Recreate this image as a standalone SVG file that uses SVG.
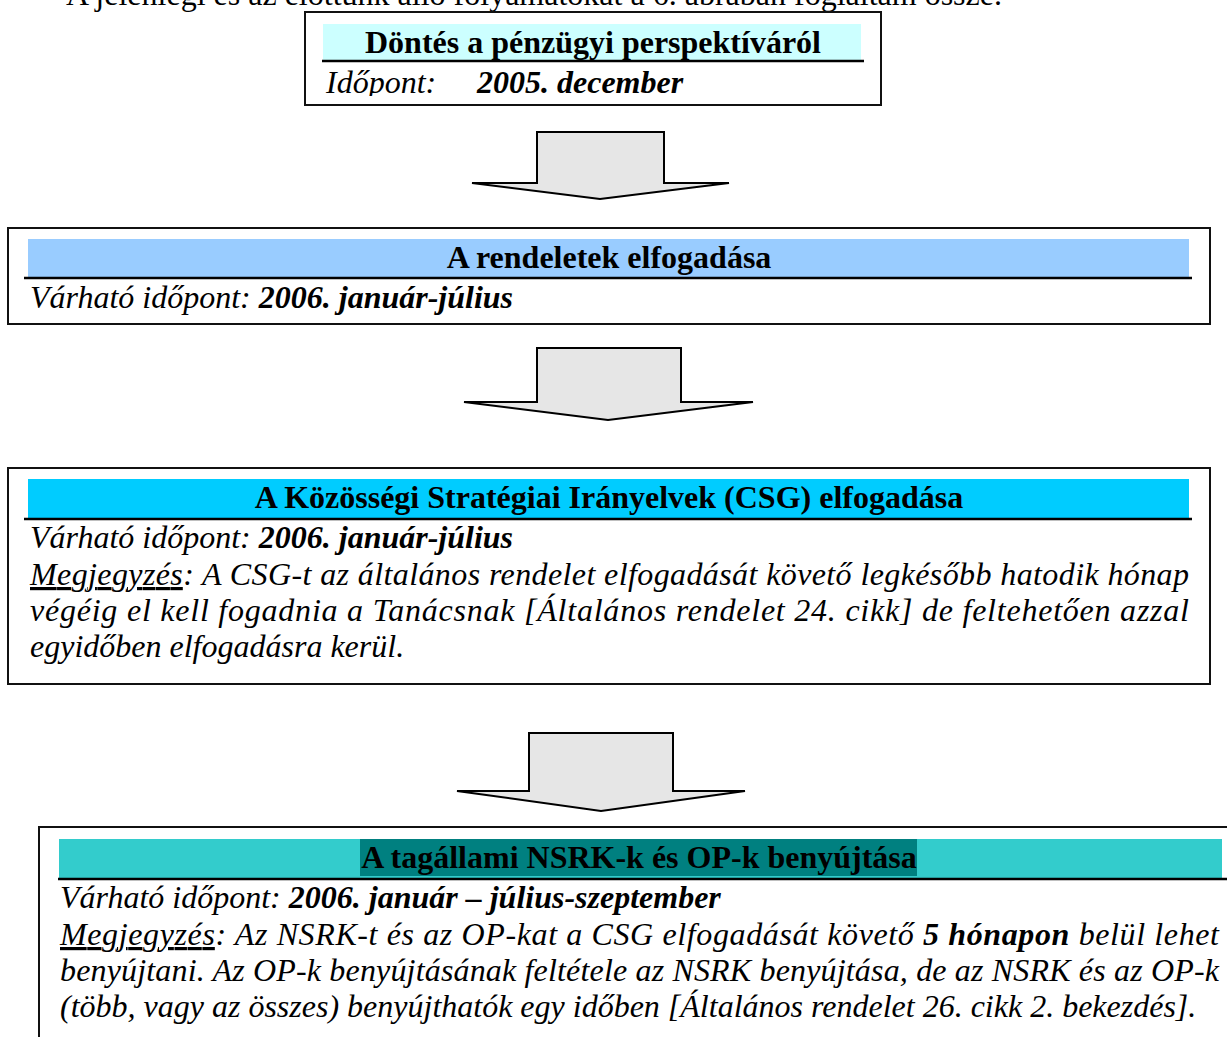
<svg xmlns="http://www.w3.org/2000/svg" width="1227" height="1037" viewBox="0 0 1227 1037">
  <style>
    .t { font-family: "Liberation Serif", "Times New Roman", serif; font-size: 32px; fill: #000; }
    .h { font-weight: bold; text-anchor: middle; }
    .i { font-style: italic; }
    .bi { font-style: italic; font-weight: bold; }
    .u { text-decoration: underline; }
    .box { fill: #fff; stroke: #111; stroke-width: 2; }
    .rule { stroke: #000; stroke-width: 2.5; }
    .arrow { fill: #e6e6e6; stroke: #000; stroke-width: 2; stroke-linejoin: miter; }
  </style>
  <defs>
    <clipPath id="c1"><rect x="300" y="8" width="590" height="88"/></clipPath>
  </defs>
  <rect x="0" y="0" width="1227" height="1037" fill="#fff"/>

  <text class="t" x="66" y="5" textLength="936" lengthAdjust="spacingAndGlyphs">A jelenlegi és az előttünk álló folyamatokat a 6. ábrában foglaltam össze.</text>

  <g id="node-dontes">
    <rect class="box" x="305" y="12" width="576" height="93"/>
    <rect x="323" y="24" width="538" height="37" fill="#ccffff"/>
    <line class="rule" x1="322" y1="61" x2="864" y2="61"/>
    <text class="t h" x="593" y="53">Döntés a pénzügyi perspektíváról</text>
    <g clip-path="url(#c1)">
      <text class="t i" x="326" y="93">Időpont:</text>
      <text class="t bi" x="477" y="93">2005. december</text>
    </g>
  </g>

  <g id="node-rendeletek">
    <rect class="box" x="8" y="228" width="1202" height="96"/>
    <rect x="28" y="239" width="1161" height="38" fill="#99ccff"/>
    <line class="rule" x1="24" y1="278" x2="1192" y2="278"/>
    <text class="t h" x="609" y="268">A rendeletek elfogadása</text>
    <text class="t" x="30" y="308"><tspan class="i">Várható időpont: </tspan><tspan class="bi">2006. január-július</tspan></text>
  </g>

  <g id="node-csg">
    <rect class="box" x="8" y="468" width="1202" height="216"/>
    <rect x="28" y="479" width="1161" height="39" fill="#00ccff"/>
    <line class="rule" x1="24" y1="519" x2="1192" y2="519"/>
    <text class="t h" x="609" y="508">A Közösségi Stratégiai Irányelvek (CSG) elfogadása</text>
    <text class="t" x="30" y="548"><tspan class="i">Várható időpont: </tspan><tspan class="bi">2006. január-július</tspan></text>
    <text class="t i" x="30" y="585" textLength="1159" lengthAdjust="spacing"><tspan class="u">Megjegyzés</tspan>: A CSG-t az általános rendelet elfogadását követő legkésőbb hatodik hónap</text>
    <text class="t i" x="30" y="621" textLength="1159" lengthAdjust="spacing">végéig el kell fogadnia a Tanácsnak [Általános rendelet 24. cikk] de feltehetően azzal</text>
    <text class="t i" x="30" y="657">egyidőben elfogadásra kerül.</text>
  </g>

  <g id="node-nsrk">
    <rect class="box" x="39" y="827" width="1210" height="230"/>
    <rect x="59" y="839" width="1163" height="39" fill="#33cccc"/>
    <rect x="360" y="839" width="557" height="37" fill="#008080"/>
    <line class="rule" x1="58" y1="879" x2="1227" y2="879"/>
    <text class="t h" x="639" y="868">A tagállami NSRK-k és OP-k benyújtása</text>
    <text class="t" x="60" y="908"><tspan class="i">Várható időpont: </tspan><tspan class="bi">2006. január – július-szeptember</tspan></text>
    <text class="t i" x="60" y="945" textLength="1159" lengthAdjust="spacing"><tspan class="u">Megjegyzés</tspan>: Az NSRK-t és az OP-kat a CSG elfogadását követő <tspan class="bi">5 hónapon</tspan> belül lehet</text>
    <text class="t i" x="60" y="981" textLength="1159" lengthAdjust="spacing">benyújtani. Az OP-k benyújtásának feltétele az NSRK benyújtása, de az NSRK és az OP-k</text>
    <text class="t i" x="60" y="1017">(több, vagy az összes) benyújthatók egy időben [Általános rendelet 26. cikk 2. bekezdés].</text>
  </g>

  <g id="connectors">
    <polygon class="arrow" points="537,132 664,132 664,183 729,183 600,199 472,183 537,183"/>
    <polygon class="arrow" points="537,348 681,348 681,402 753,402 608,420 464,402 537,402"/>
    <polygon class="arrow" points="529,733 673,733 673,791 745,791 601,811 457,791 529,791"/>
  </g>
</svg>
